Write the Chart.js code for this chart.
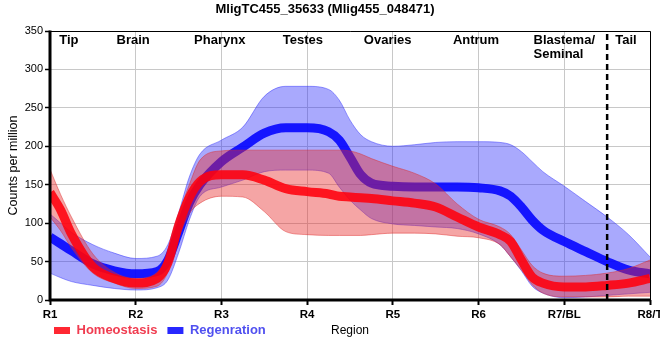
<!DOCTYPE html>
<html>
<head>
<meta charset="utf-8">
<script src="https://cdn.jsdelivr.net/npm/chart.js@4.4.1/dist/chart.umd.min.js"></script>
<style>
html,body{margin:0;padding:0;background:#fff;}
#wrap{width:660px;height:360px;}
</style>
</head>
<body>
<div id="wrap"><canvas id="c" width="660" height="360"></canvas></div>
<script>
// ---------- data ----------
const chartTitle = 'MligTC455_35633 (Mlig455_048471)';
const xTickLabels = ['R1', 'R2', 'R3', 'R4', 'R5', 'R6', 'R7/BL', 'R8/T'];
const regionNames = ['Tip', 'Brain', 'Pharynx', 'Testes', 'Ovaries', 'Antrum', 'Blastema/\nSeminal', 'Tail'];
const regionAnchors = [1.22, 1.97, 2.98, 3.95, 4.94, 5.97, 7.0, 7.72];
const boundaryX = [7.5];
const seriesNames = ['Homeostasis', 'Regenration'];

const positions = [1, 1.125, 1.25, 1.5, 1.75, 2, 2.25, 2.375, 2.5, 2.625, 2.75, 3, 3.25, 3.5, 3.75, 4, 4.25, 4.375, 4.5, 4.625, 4.75, 5, 5.25, 5.5, 5.75, 6, 6.25, 6.375, 6.5, 6.625, 6.75, 7, 7.25, 7.5, 7.75, 8];

const homeoMean  = [140, 117, 86, 43, 28, 22, 28, 48, 97, 133, 154, 163, 163, 156, 145, 141, 138, 135, 134, 133, 132, 129, 126, 121, 108, 95, 85, 76, 52, 30, 22, 17, 17, 19, 22, 28];
const homeoUpper = [170, 137, 108, 60, 36, 28, 36, 60, 110, 150, 182, 194, 195, 195, 195, 195, 195, 195, 194, 190, 184, 174, 165, 151, 125, 105, 95, 85, 65, 45, 35, 31, 32, 35, 41, 52];
const homeoLower = [108, 90, 68, 35, 22, 15, 18, 36, 80, 112, 126, 135, 134, 115, 89, 85, 84, 84, 84, 84, 85, 87, 87, 86, 83, 81, 72, 56, 39, 20, 9, 4, 4, 4, 5, 5];

const regenMean  = [82, 73, 64, 47, 38, 34, 37, 52, 88, 126, 150, 180, 199, 217, 224, 224, 219, 208, 186, 163, 152, 148, 147, 147, 147, 146, 142, 135, 121, 104, 91, 76, 63, 50, 39, 34];
const regenUpper = [112, 100, 88, 72, 61, 54, 57, 72, 113, 160, 190, 208, 225, 265, 278, 278, 274, 260, 234, 215, 206, 200, 202, 205, 206, 206, 205, 202, 193, 180, 167, 148, 128, 108, 85, 56];
const regenLower = [35, 29, 24, 19, 15, 13, 16, 26, 61, 104, 135, 147, 156, 167, 169, 169, 165, 147, 130, 117, 106, 99, 97, 95, 93, 86, 72, 56, 38, 18, 9, 3, 4, 6, 8, 10];

// ---------- styling ----------
const FONT = '"Liberation Sans", Arial, Helvetica, sans-serif';
const redLine = 'rgba(255,0,12,0.88)';
const blueLine = 'rgba(0,0,255,0.88)';
const redFill = 'rgba(230,40,40,0.42)';
const redEdge = 'rgba(220,40,40,0.45)';
const blueFill = 'rgba(40,40,250,0.40)';
const blueEdge = 'rgba(40,40,250,0.45)';
const legendBoxColors = ['rgb(255,40,50)', 'rgb(40,40,255)'];
const legendTextColors = ['rgb(240,60,80)', 'rgb(80,80,240)'];

const pts = arr => positions.map((x, i) => ({x: x, y: arr[i]}));

const common = {pointRadius: 0, pointHoverRadius: 0, cubicInterpolationMode: 'monotone', clip: 0};

const datasets = [
  Object.assign({label: seriesNames[0], data: pts(homeoMean), borderColor: redLine, borderWidth: 9, fill: false, order: 0, borderJoinStyle: 'round'}, common),
  Object.assign({label: seriesNames[1], data: pts(regenMean), borderColor: blueLine, borderWidth: 9, fill: false, order: 3, borderJoinStyle: 'round'}, common),
  Object.assign({label: 'homeoUpper', data: pts(homeoUpper), borderColor: redEdge, borderWidth: 1, backgroundColor: redFill, fill: '+1', order: 1}, common),
  Object.assign({label: 'homeoLower', data: pts(homeoLower), borderColor: redEdge, borderWidth: 1, fill: false, order: 2}, common),
  Object.assign({label: 'regenUpper', data: pts(regenUpper), borderColor: blueEdge, borderWidth: 1, backgroundColor: blueFill, fill: '+1', order: 4}, common),
  Object.assign({label: 'regenLower', data: pts(regenLower), borderColor: blueEdge, borderWidth: 1, fill: false, order: 5}, common),
  {label: 'boundary', data: [{x: boundaryX[0], y: 0}, {x: boundaryX[0], y: 350}], borderColor: '#000', borderWidth: 2.5, borderDash: [6, 4], pointRadius: 0, fill: false, order: -1, clip: 0}
];

const legendPlace = {
  id: 'legendPlace',
  afterLayout(chart) {
    const lg = chart.legend;
    if (!lg) return;
    lg.left = 44; lg.right = 650; lg.top = 314; lg.bottom = 347;
    lg.width = 606; lg.height = 33;
  }
};

const framePlugin = {
  id: 'frame',
  afterDatasetsDraw(chart) {
    const {ctx, chartArea: a, scales} = chart;
    const xs = scales.x;
    ctx.save();
    ctx.strokeStyle = '#000';
    ctx.lineWidth = 1;
    ctx.beginPath();
    ctx.moveTo(a.left, a.top + 0.5);
    ctx.lineTo(a.right + 0.5, a.top + 0.5);
    ctx.lineTo(a.right + 0.5, a.bottom);
    ctx.stroke();
    ctx.lineWidth = 3;
    ctx.beginPath();
    ctx.moveTo(a.left, a.top - 0.5);
    ctx.lineTo(a.left, a.bottom);
    ctx.lineTo(a.right + 1, a.bottom);
    ctx.stroke();
    ctx.font = 'bold 13px ' + FONT;
    ctx.fillStyle = '#000';
    ctx.textBaseline = 'middle';
    ctx.textAlign = 'left';
    regionNames.forEach((name, i) => {
      const lines = name.split('\n');
      const cx = xs.getPixelForValue(regionAnchors[i]);
      const w = ctx.measureText(lines[0]).width;
      lines.forEach((ln, j) => ctx.fillText(ln, cx - w / 2, a.top + 9 + j * 14));
    });
    ctx.restore();
  }
};

new Chart(document.getElementById('c'), {
  type: 'line',
  data: {datasets: datasets},
  plugins: [legendPlace, framePlugin],
  options: {
    responsive: false,
    devicePixelRatio: 1,
    animation: false,
    events: [],
    layout: {padding: {left: 0, right: 10, top: 0, bottom: 0}},
    plugins: {
      title: {
        display: true, text: chartTitle, color: '#000',
        font: {family: FONT, size: 13, weight: 'bold'},
        padding: {top: 2, bottom: 13.4}
      },
      legend: {
        display: true, position: 'bottom', align: 'start', maxHeight: 1,
        labels: {
          boxWidth: 16, boxHeight: 7, padding: 10,
          font: {family: FONT, size: 13, weight: 'bold'},
          generateLabels: () => seriesNames.map((t, i) => ({
            text: t, fillStyle: legendBoxColors[i], strokeStyle: legendBoxColors[i],
            lineWidth: 0, fontColor: legendTextColors[i], hidden: false, datasetIndex: i
          }))
        }
      },
      tooltip: {enabled: false}
    },
    scales: {
      x: {
        type: 'linear', min: 1, max: 8,
        afterFit: s => { s.height = 59; s.paddingLeft = 0; s.paddingRight = 0; },
        ticks: {
          stepSize: 1, autoSkip: false, maxRotation: 0, padding: 3, color: '#000',
          font: {family: FONT, size: 11.5, weight: 'bold'},
          callback: v => xTickLabels[Math.round(v) - 1]
        },
        grid: {color: '#c8c8c8', lineWidth: 1, tickColor: '#000', tickLength: 5, tickWidth: 2},
        border: {display: false},
        title: {display: true, text: 'Region', color: '#000', font: {family: FONT, size: 12}, padding: {top: 0, bottom: 20.8}}
      },
      y: {
        type: 'linear', min: 0, max: 350,
        afterFit: s => { s.width = 50; },
        ticks: {stepSize: 50, padding: 2, color: '#000', font: {family: FONT, size: 11}},
        grid: {color: '#c8c8c8', lineWidth: 1, tickColor: '#000', tickLength: 5, tickWidth: 1.5},
        border: {display: false},
        title: {display: true, text: 'Counts per million', color: '#000', font: {family: FONT, size: 12.5}, padding: {top: 6, bottom: 0}}
      }
    }
  }
});
</script>
</body>
</html>
